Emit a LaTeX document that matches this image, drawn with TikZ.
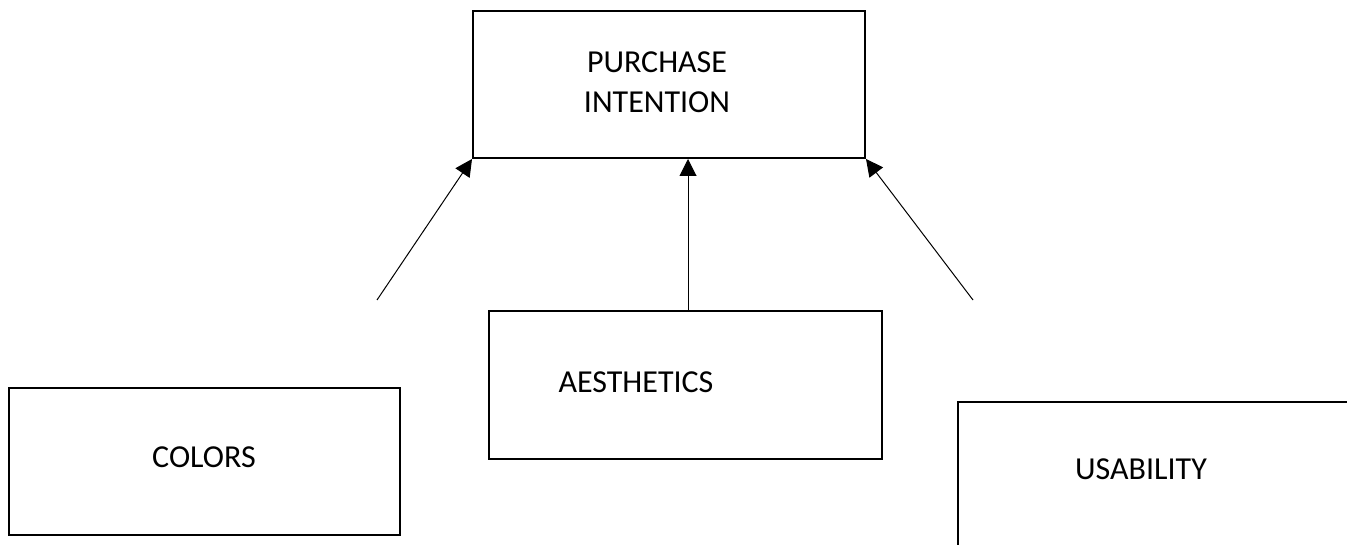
\documentclass[tikz,border=0pt]{standalone}
\usepackage{fontspec}
\setmainfont{Carlito}
\usetikzlibrary{arrows.meta}
\begin{document}
\begin{tikzpicture}[x=1pt,y=-1pt,
  box/.style={draw=black,line width=2pt,minimum width=#1,inner sep=0pt},
  lbl/.style={font=\fontsize{32}{40}\selectfont,align=center,inner sep=0pt},
  conn/.style={draw=black,line width=1pt,-{Triangle[width=17pt,length=17pt]}}]
\useasboundingbox (0,0) rectangle (1347,545);
\clip (0,0) rectangle (1347,545);
% boxes
\node[box=392pt,minimum height=147pt] (pi) at (669,84.5) {};
\node[box=393pt,minimum height=148pt] (ae) at (685.5,385) {};
\node[box=391pt,minimum height=147pt] (co) at (204.5,461.5) {};
\node[box=396pt,minimum height=160pt] (us) at (1156,482) {};
% labels
\node[lbl] (pit) at (657,82) {PURCHASE\\INTENTION};
\node[lbl] (aet) at (636,382) {AESTHETICS};
\node[lbl] (cot) at (204,457) {COLORS};
\node[lbl] (ust) at (1141,469) {USABILITY};
% connectors
\coordinate (cl) at (377,300);
\coordinate (cr) at (973,300);
\draw[conn] (cl) -- (pi.south west);
\draw[conn] (cr) -- (pi.south east);
\draw[conn] (ae.north -| 688,0) -- (pi.south -| 688,0);
\end{tikzpicture}
\end{document}
